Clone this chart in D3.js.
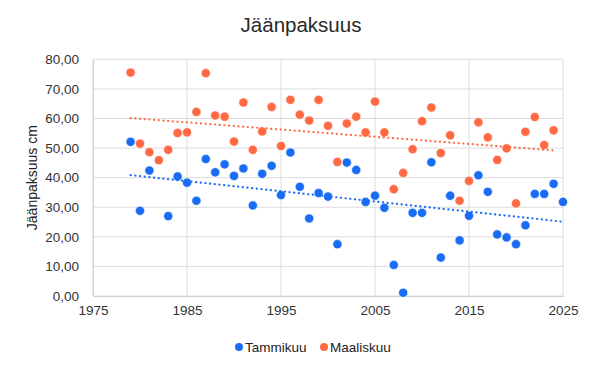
<!DOCTYPE html>
<html><head><meta charset="utf-8">
<script src="https://cdn.jsdelivr.net/npm/d3@7"></script>
<style>body{margin:0;background:#fff}svg{display:block}text{font-family:"Liberation Sans",Arial,sans-serif}</style>
</head><body><svg id="c" width="600" height="373"></svg>
<script>
const tammiYears = [1979,1980,1981,1983,1984,1985,1986,1987,1988,1989,1990,1991,1992,1993,1994,1995,1996,1997,1998,1999,2000,2001,2002,2003,2004,2005,2006,2007,2008,2009,2010,2011,2012,2013,2014,2015,2016,2017,2018,2019,2020,2021,2022,2023,2024,2025];
const tammiValues = [52.1,28.8,42.4,27.0,40.4,38.3,32.2,46.3,41.8,44.5,40.6,43.1,30.6,41.3,44.0,34.1,48.5,36.9,26.2,34.8,33.6,17.5,45.1,42.6,31.8,33.9,29.8,10.5,1.1,28.1,28.1,45.2,13.0,33.9,18.8,27.1,40.8,35.2,20.8,19.8,17.5,23.9,34.5,34.5,37.9,31.8];
const maalisYears = [1979,1980,1981,1982,1983,1984,1985,1986,1987,1988,1989,1990,1991,1992,1993,1994,1995,1996,1997,1998,1999,2000,2001,2002,2003,2004,2005,2006,2007,2008,2009,2010,2011,2012,2013,2014,2015,2016,2017,2018,2019,2020,2021,2022,2023,2024];
const maalisValues = [75.5,51.5,48.6,45.9,49.4,55.1,55.3,62.2,75.3,61.0,60.6,52.2,65.4,49.4,55.6,63.9,50.7,66.3,61.3,59.3,66.3,57.5,45.3,58.3,60.6,55.3,65.7,55.3,36.1,41.6,49.6,59.1,63.7,48.3,54.3,32.2,38.9,58.7,53.6,46.0,49.9,31.3,55.5,60.5,51.0,56.0];
const xTicks = [1975,1985,1995,2005,2015,2025];
const yTicks = [0,10,20,30,40,50,60,70,80];
const seriesNames = ["Tammikuu","Maaliskuu"];
const colors = ["#1a6cf4","#ff6a45"];

const svg = d3.select("#c");
const x = d3.scaleLinear().domain([1975,2025]).range([93,563]);
const y = d3.scaleLinear().domain([0,80]).range([296,59.3]);
const fmt = v => d3.format(".2f")(v).replace(".", ",");

// gridlines
svg.append("g").selectAll("line").data(yTicks).join("line")
  .attr("x1",x(1975)).attr("x2",x(2025)).attr("y1",d=>y(d)).attr("y2",d=>y(d))
  .attr("stroke","#dcdcdc").attr("stroke-width",1);
svg.append("g").selectAll("line").data(xTicks).join("line")
  .attr("x1",d=>x(d)).attr("x2",d=>x(d)).attr("y1",y(0)).attr("y2",y(80))
  .attr("stroke","#dcdcdc").attr("stroke-width",1);

// axes
const yAxis = svg.append("g").attr("transform",`translate(${x(1975)},0)`)
  .call(d3.axisLeft(y).tickValues(yTicks).tickFormat(fmt).tickSize(0).tickPadding(14));
yAxis.select(".domain").attr("stroke","#d0d0d0");
yAxis.selectAll("text").attr("font-size",13.5).attr("fill","#333");
const xAxis = svg.append("g").attr("transform",`translate(0,${y(0)})`)
  .call(d3.axisBottom(x).tickValues(xTicks).tickFormat(d3.format("d")).tickSize(0).tickPadding(9));
xAxis.select(".domain").attr("stroke","#d0d0d0");
xAxis.selectAll("text").attr("font-size",13.5).attr("fill","#333");

// title and labels
svg.append("text").attr("x",301).attr("y",32).attr("text-anchor","middle")
  .attr("font-size",20.5).attr("fill","#2a2a2a").text("Jäänpaksuus");
svg.append("text").attr("transform",`translate(37,${(y(0)+y(80))/2}) rotate(-90)`)
  .attr("text-anchor","middle").attr("font-size",14).attr("fill","#222").text("Jäänpaksuus cm");

function regression(xs, ys){
  const n = xs.length, mx = d3.mean(xs), my = d3.mean(ys);
  let sxy=0,sxx=0;
  for(let i=0;i<n;i++){sxy+=(xs[i]-mx)*(ys[i]-my);sxx+=(xs[i]-mx)**2;}
  const b=sxy/sxx, a=my-b*mx;
  return [[d3.min(xs),a+b*d3.min(xs)],[d3.max(xs),a+b*d3.max(xs)]];
}
const series = [
  {years:tammiYears, values:tammiValues, color:colors[0]},
  {years:maalisYears, values:maalisValues, color:colors[1]}
];
series.forEach(s=>{
  const pts = s.years.map((yr,i)=>[yr,s.values[i]]);
  svg.append("g").selectAll("circle").data(pts).join("circle")
    .attr("cx",d=>x(d[0])).attr("cy",d=>y(d[1])).attr("r",4.6)
    .attr("fill",s.color).attr("stroke","#fff").attr("stroke-width",0.6);
});
series.forEach(s=>{
  const t = regression(s.years, s.values);
  svg.append("line").attr("x1",x(t[0][0])).attr("y1",y(t[0][1]))
    .attr("x2",x(t[1][0])).attr("y2",y(t[1][1]))
    .attr("stroke",s.color).attr("stroke-width",2.2)
    .attr("stroke-dasharray","0.1,4.6").attr("stroke-linecap","round");
});

// legend
const legendX = [239, 324];
seriesNames.forEach((name,i)=>{
  svg.append("circle").attr("cx",legendX[i]).attr("cy",347).attr("r",4).attr("fill",colors[i]);
  svg.append("text").attr("x",legendX[i]+6).attr("y",352).attr("font-size",13.5).attr("fill","#222").text(name);
});
</script></body></html>
